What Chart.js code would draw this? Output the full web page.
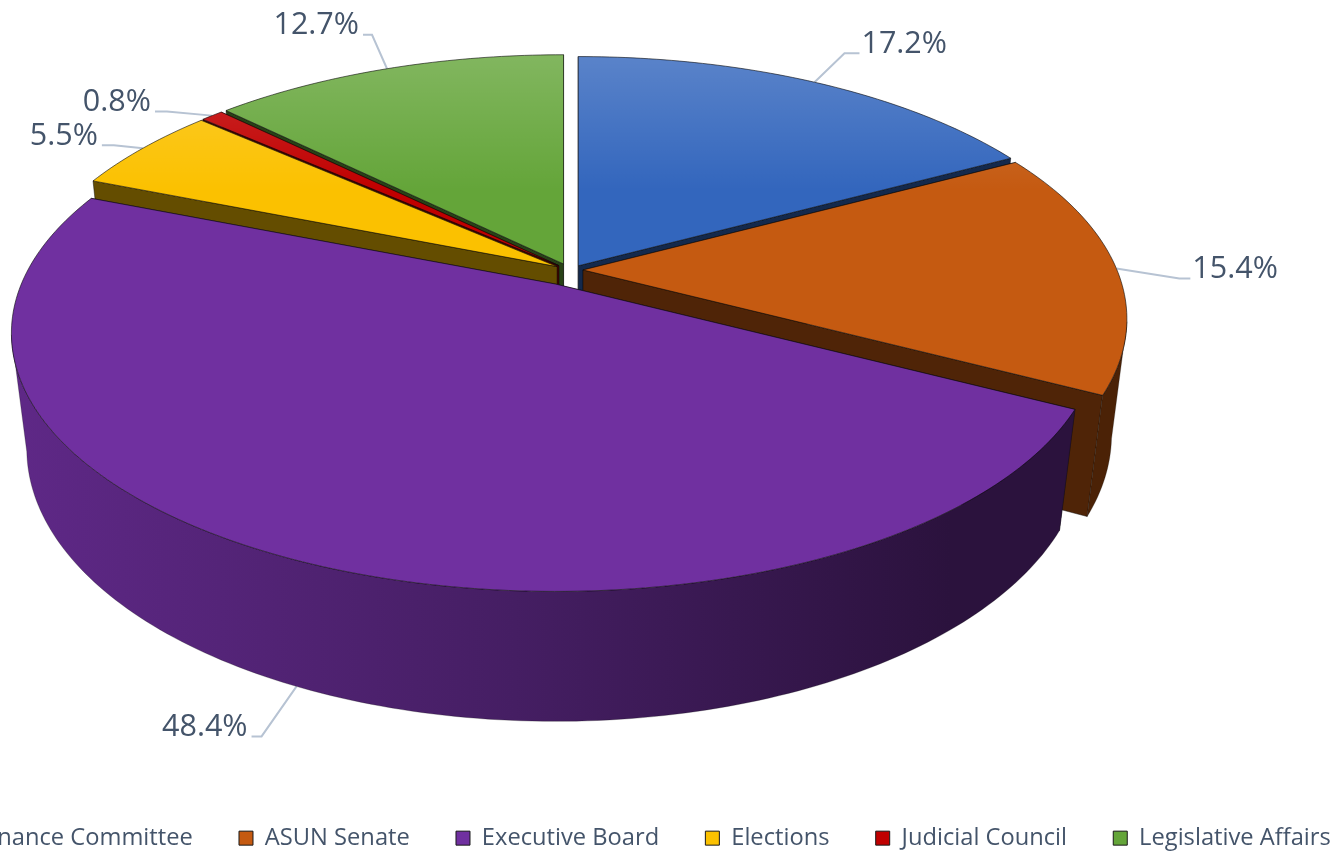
<!DOCTYPE html>
<html>
<head>
<meta charset="utf-8">
<script src="https://cdn.jsdelivr.net/npm/chart.js@4/dist/chart.umd.js"></script>
<style>
html,body{margin:0;padding:0;background:#fff;overflow:hidden;width:1337px;height:853px}
#wrap{position:absolute;left:0;top:0;width:1337px;height:853px;overflow:hidden}
canvas{position:absolute;left:-95px;top:0}
</style>
</head>
<body>
<div id="wrap"><canvas id="c" width="1474" height="864"></canvas></div>
<script>
const categories = ['Finance Committee','ASUN Senate','Executive Board','Elections','Judicial Council','Legislative Affairs'];
const shares = [17.2,15.4,48.4,5.5,0.8,12.7];
const sliceColors = ['#3366BD','#C55A11','#7030A0','#FBC100','#C00000','#64A539'];
const explode = [18,14,33,14,14,14];
const sliceNudgeY = [3,0,0,0,0,0];
// leader shape for each label, relative to its slice anchor: elbow dx, elbow dy, stub dx
const leaderShape = [[30,-29,15],[63,10,11],[-35,50,-10],[-29,-3,-12],[-45,-4,-12],[-15,-34,-9]];

const canvasLeft = 95;
const P = {cx:569+canvasLeft, cy:270, A:534, B:249, k:0.19, m:0.028, D:117.5};
function project(u,v,z){
  const w = 1 - P.k*v + P.m*z;
  return {x:P.cx + P.A*u/w, y:P.cy + (P.B*v + P.D*z)/w};
}
function sliceGeom(el,index){
  const p = el.getProps(['startAngle','endAngle']);
  const mid = (p.startAngle+p.endAngle)/2;
  const off = el.options.offset || 0;
  const idx = index===undefined ? el.$sliceIndex : index;
  return {a0:p.startAngle, a1:p.endAngle, mid,
          ox:Math.cos(mid)*off, oy:Math.sin(mid)*off*P.B/P.A + (sliceNudgeY[idx]||0)};
}
function rim(g,z){
  const n = Math.max(2,Math.ceil((g.a1-g.a0)/(Math.PI/180)));
  const pts=[];
  for(let i=0;i<=n;i++){
    const a=g.a0+(g.a1-g.a0)*i/n, q=project(Math.cos(a),Math.sin(a),z);
    pts.push({x:q.x+g.ox,y:q.y+g.oy,front:Math.sin(a)>P.k});
  }
  return pts;
}
function tracePoly(ctx,pts){
  ctx.beginPath();
  pts.forEach((q,i)=>i?ctx.lineTo(q.x,q.y):ctx.moveTo(q.x,q.y));
  ctx.closePath();
}
function rgb(hex,f){
  const n=parseInt(hex.slice(1),16);
  return `rgb(${Math.round((n>>16&255)*f)},${Math.round((n>>8&255)*f)},${Math.round((n&255)*f)})`;
}
const edge='rgba(10,10,10,0.75)';
Chart.ArcElement.prototype.draw = function(ctx){
  const g = sliceGeom(this), col = this.options.backgroundColor;
  const shift = q=>({x:q.x+g.ox,y:q.y+g.oy});
  const c0=shift(project(0,0,0)), c1=shift(project(0,0,1));
  const t=rim(g,0), b=rim(g,1);
  ctx.save();
  ctx.lineJoin='round';
  // cut faces, the one further back first
  const faces=[[g.a0,t[0],b[0]],[g.a1,t[t.length-1],b[b.length-1]]];
  faces.sort((p,q)=>Math.sin(p[0])-Math.sin(q[0]));
  faces.forEach(([,pt,pb])=>{
    tracePoly(ctx,[c0,pt,pb,c1]);
    ctx.fillStyle=rgb(col,0.4); ctx.fill();
    ctx.strokeStyle=edge; ctx.lineWidth=0.6; ctx.stroke();
  });
  // outer wall: only the part that faces the viewer
  const frontIdx=t.map((q,i)=>q.front?i:-1).filter(i=>i>=0);
  if(frontIdx.length>1){
    const i0=frontIdx[0], i1=frontIdx[frontIdx.length-1];
    const wall=ctx.createLinearGradient(P.cx-545,0,P.cx+545,0);
    wall.addColorStop(0,rgb(col,0.84));
    wall.addColorStop(0.45,rgb(col,0.62));
    wall.addColorStop(0.85,rgb(col,0.38));
    wall.addColorStop(1,rgb(col,0.38));
    const topPart=t.slice(i0,i1+1), botPart=b.slice(i0,i1+1).reverse();
    tracePoly(ctx,topPart.concat(botPart));
    ctx.fillStyle=wall; ctx.fill();
    ctx.strokeStyle='rgba(10,10,10,0.5)'; ctx.lineWidth=0.5; ctx.stroke();
  }
  // top face with soft highlight toward the back
  tracePoly(ctx,[c0].concat(t));
  ctx.fillStyle=col; ctx.fill();
  const hi=ctx.createLinearGradient(0,50,0,190);
  hi.addColorStop(0,'rgba(255,255,255,0.2)');
  hi.addColorStop(1,'rgba(255,255,255,0)');
  ctx.fillStyle=hi; ctx.fill();
  ctx.strokeStyle=edge; ctx.lineWidth=0.8; ctx.stroke();
  ctx.restore();
};

function leaderPoints(el,i){
  const g=sliceGeom(el,i), u=Math.cos(g.mid), v=Math.sin(g.mid);
  const front=project(u,v,v>0.5?1:0);
  const ax=front.x+g.ox, ay=front.y+g.oy;
  const [ex,ey,sx]=leaderShape[i];
  return {ax,ay,ex:ax+ex,ey:ay+ey,sx};
}
const pie3d = {
  id:'pie3d',
  beforeDatasetsDraw(chart){
    const ctx=chart.ctx, arcs=chart.getDatasetMeta(0).data.slice();
    arcs.forEach((el,i)=>{ el.$sliceIndex=i; });
    // leader lines go underneath the pie so they stop at its rim
    arcs.forEach((el,i)=>{
      const L=leaderPoints(el,i);
      ctx.beginPath(); ctx.moveTo(L.ax,L.ay); ctx.lineTo(L.ex,L.ey); ctx.lineTo(L.ex+L.sx,L.ey);
      ctx.strokeStyle='#B7C3D3'; ctx.lineWidth=2; ctx.stroke();
    });
    arcs.sort((p,q)=>Math.sin(sliceGeom(p).mid)-Math.sin(sliceGeom(q).mid));
    arcs.forEach(a=>a.draw(ctx));
    return false;
  },
  afterDraw(chart){
    const ctx=chart.ctx, arcs=chart.getDatasetMeta(0).data;
    ctx.save();
    ctx.font='30.5px "Open Sans"';
    ctx.fillStyle='#44546A';
    ctx.textBaseline='middle';
    arcs.forEach((el,i)=>{
      const L=leaderPoints(el,i);
      ctx.textAlign=L.sx>0?'left':'right';
      ctx.fillText(shares[i].toFixed(1)+'%', L.ex+L.sx+(L.sx>0?2:-4), L.ey-9);
    });
    ctx.restore();
  }
};

new Chart(document.getElementById('c'),{
  type:'pie',
  data:{labels:categories,datasets:[{
    data:shares,
    backgroundColor:sliceColors,
    borderColor:'#1a1a1a',
    borderWidth:1,
    offset:explode
  }]},
  options:{
    responsive:false,
    animation:false,
    events:[],
    layout:{padding:{bottom:4}},
    plugins:{
      tooltip:{enabled:false},
      legend:{
        position:'bottom',
        labels:{boxWidth:14,boxHeight:14,padding:46.2,color:'#44546A',
          font:{family:'"Open Sans"',size:23.7}}
      }
    }
  },
  plugins:[pie3d]
});
</script>
</body>
</html>
